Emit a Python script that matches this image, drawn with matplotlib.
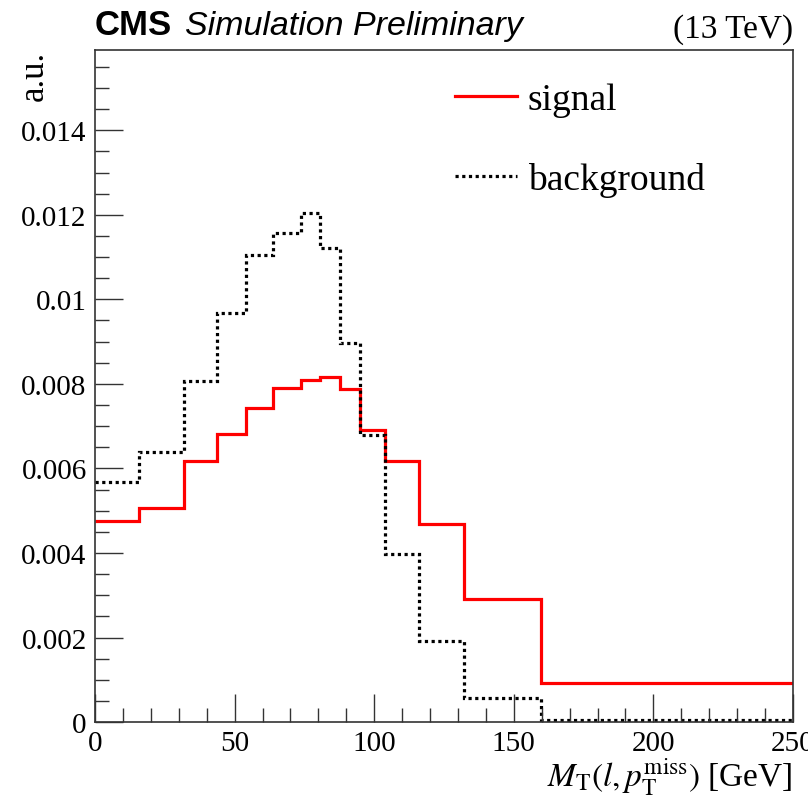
import matplotlib
matplotlib.use("Agg")
import matplotlib.pyplot as plt
from matplotlib.ticker import MultipleLocator

# bin edges in GeV and normalised contents
edges = [0, 15.6, 31.7, 43.7, 54.0, 63.6, 73.8, 80.6, 87.8, 94.9, 103.9, 116.0, 132.0, 159.6, 250]
signal = [0.00475, 0.00506, 0.00617, 0.00681, 0.00744, 0.00791, 0.00809,
          0.00817, 0.00787, 0.00690, 0.00617, 0.00468, 0.00291, 0.00092]
background = [0.00568, 0.00640, 0.00807, 0.00968, 0.01105, 0.01158, 0.01205,
              0.01122, 0.00896, 0.00680, 0.00398, 0.00191, 0.00056, 0.00005]

plt.rcParams['font.family'] = 'Liberation Serif'
plt.rcParams['mathtext.fontset'] = 'stix'

fig = plt.figure(figsize=(8.08, 8.04), dpi=100)
ax = fig.add_axes([0.1176, 0.1007, 0.8638, 0.8359])

ax.stairs(signal, edges, baseline=None, color='#ff0000', lw=2.3, label='signal')
ax.stairs(background, edges, baseline=None, color='black', lw=2.3,
          linestyle=(0, (1, 1.1)), label='background')

ax.set_xlim(0, 250)
ax.set_ylim(0, 0.0159)
ax.xaxis.set_major_locator(MultipleLocator(50))
ax.xaxis.set_minor_locator(MultipleLocator(10))
ax.yaxis.set_minor_locator(MultipleLocator(0.0005))
ax.set_yticks([0, 0.002, 0.004, 0.006, 0.008, 0.01, 0.012, 0.014])
ax.set_yticklabels(['0', '0.002', '0.004', '0.006', '0.008', '0.01', '0.012', '0.014'])
ax.tick_params(which='both', direction='in', labelsize=21, color='#333333')
ax.tick_params(which='major', length=20, width=1)
ax.tick_params(which='minor', length=10, width=1)
ax.tick_params(axis='x', pad=6)
ax.tick_params(axis='y', pad=6)
for s in ax.spines.values():
    s.set_linewidth(1.2)
    s.set_color('#333333')

ax.legend(loc='upper left', bbox_to_anchor=(0.516, 0.952), frameon=False,
          fontsize=27, handlelength=1.65, handletextpad=0.28, labelspacing=1.2,
          borderpad=0, borderaxespad=0)

fig.text(0.1176, 0.948, 'CMS', family='Liberation Sans', weight='bold', fontsize=25, va='bottom')
fig.text(0.229, 0.948, 'Simulation Preliminary', family='Liberation Sans', style='italic',
         fontsize=24.5, va='bottom')
fig.text(0.981, 0.944, '(13 TeV)', fontsize=24, ha='right', va='bottom')

fig.text(0.042, 0.9366, 'a.u.', fontsize=25, rotation=90, ha='center', va='top')
fig.text(0.981, 0.008, r'$M_{\mathrm{T}}(l, p_{\mathrm{T}}^{\mathrm{miss}})$ [GeV]',
         fontsize=24, ha='right', va='bottom')

fig.savefig('out.png', dpi=100)
